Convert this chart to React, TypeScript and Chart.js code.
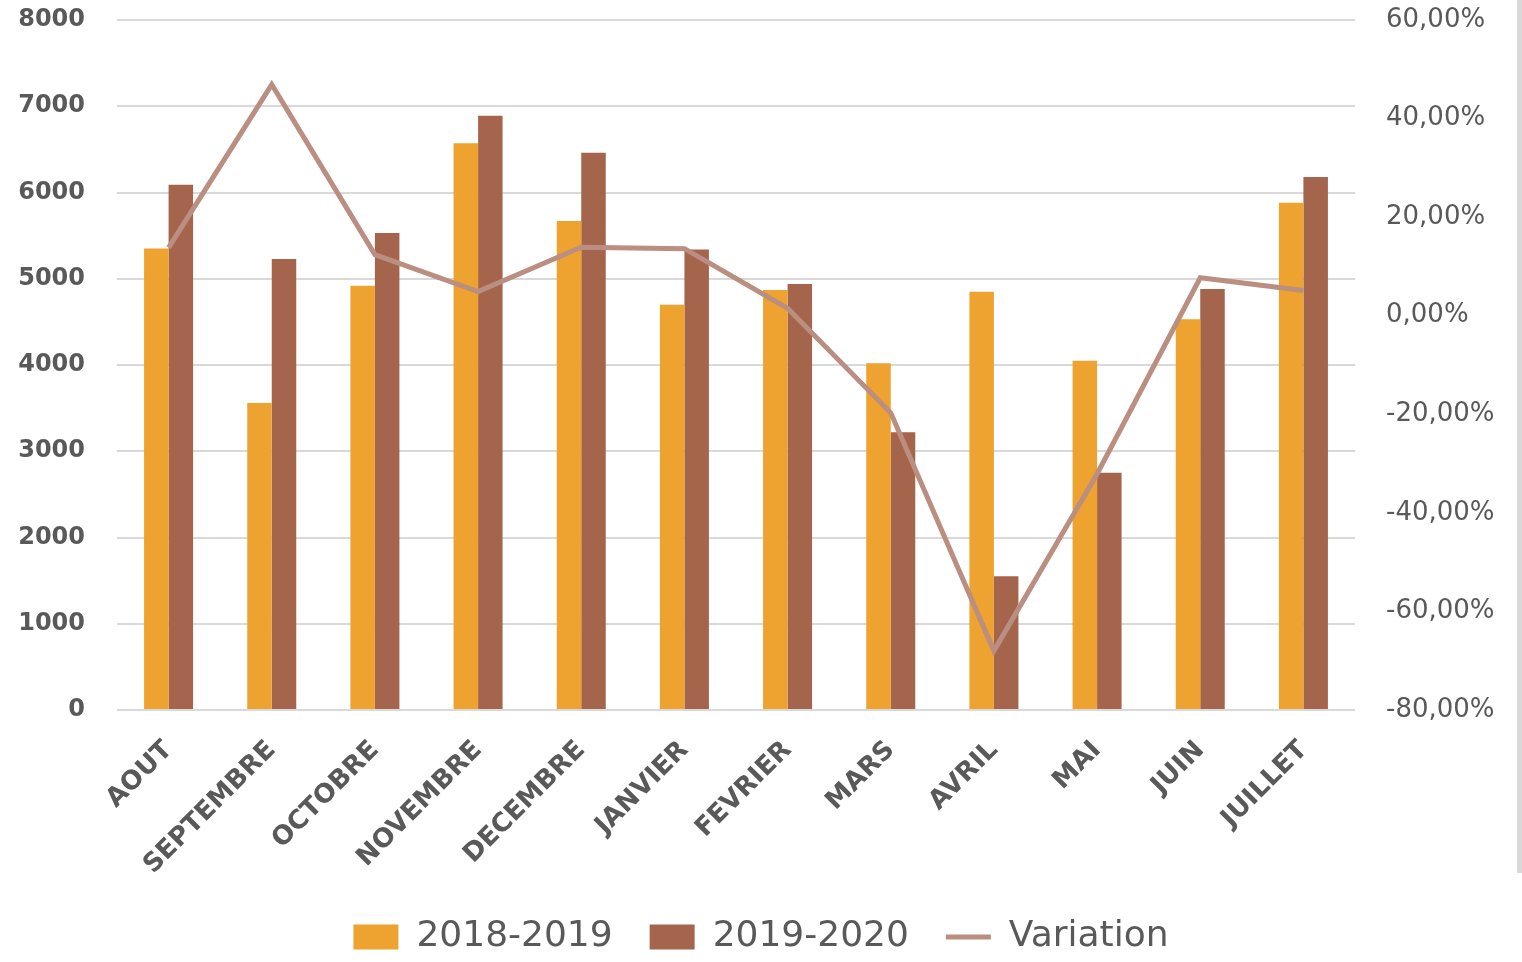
import React, { useEffect, useRef } from 'react';
import { Chart, registerables } from 'chart.js';

Chart.register(...registerables);

const categories = ['AOUT', 'SEPTEMBRE', 'OCTOBRE', 'NOVEMBRE', 'DECEMBRE', 'JANVIER', 'FEVRIER', 'MARS', 'AVRIL', 'MAI', 'JUIN', 'JUILLET'];
const values2018 = [5350, 3560, 4920, 6570, 5670, 4700, 4870, 4020, 4850, 4050, 4530, 5880];
const values2019 = [6090, 5230, 5530, 6890, 6460, 5340, 4940, 3220, 1550, 2750, 4880, 6180];
const variation = [13.8, 46.9, 12.4, 4.9, 13.9, 13.6, 1.5, -19.7, -68.0, -32.1, 7.7, 5.1];
const seriesNames = ['2018-2019', '2019-2020', 'Variation'];

const ORANGE = '#EEA22F';
const BROWN = '#A5654D';
const LINE = '#BA8E80';
const TEXT = '#595959';
const GRID = '#D9D9D9';

const formatPct = (v: number) => v.toFixed(2).replace('.', ',') + '%';

export default function App() {
  const canvasRef = useRef<HTMLCanvasElement | null>(null);

  useEffect(() => {
    if (!canvasRef.current) return;
    const chart = new Chart(canvasRef.current, {
      type: 'bar',
      data: {
        labels: categories,
        datasets: [
          {
            type: 'line',
            label: seriesNames[2],
            data: variation,
            yAxisID: 'y1',
            borderColor: LINE,
            backgroundColor: LINE,
            borderWidth: 5,
            pointRadius: 0,
            tension: 0,
            order: 0,
          } as any,
          {
            type: 'bar',
            label: seriesNames[0],
            data: values2018,
            yAxisID: 'y',
            backgroundColor: ORANGE,
            categoryPercentage: 0.475,
            barPercentage: 1,
            order: 1,
          },
          {
            type: 'bar',
            label: seriesNames[1],
            data: values2019,
            yAxisID: 'y',
            backgroundColor: BROWN,
            categoryPercentage: 0.475,
            barPercentage: 1,
            order: 1,
          },
        ],
      },
      options: {
        animation: false,
        responsive: true,
        maintainAspectRatio: false,
        layout: { padding: { top: 0, bottom: 0, left: 0, right: 0 } },
        plugins: {
          tooltip: { enabled: false },
          legend: {
            position: 'bottom',
            maxHeight: 80,
            labels: {
              usePointStyle: true,
              pointStyleWidth: 45,
              boxHeight: 25,
              padding: 37,
              color: TEXT,
              font: { family: 'DejaVu Sans', size: 36 },
              generateLabels: () => [
                { text: seriesNames[0], fillStyle: ORANGE, strokeStyle: ORANGE, lineWidth: 0, pointStyle: 'rect', datasetIndex: 1, hidden: false, fontColor: TEXT },
                { text: seriesNames[1], fillStyle: BROWN, strokeStyle: BROWN, lineWidth: 0, pointStyle: 'rect', datasetIndex: 2, hidden: false, fontColor: TEXT },
                { text: seriesNames[2], fillStyle: LINE, strokeStyle: LINE, lineWidth: 5, pointStyle: 'line', datasetIndex: 0, hidden: false, fontColor: TEXT },
              ] as any,
            },
          } as any,
        },
        scales: {
          x: {
            grid: { display: false },
            border: { display: false },
            ticks: {
              minRotation: 45,
              maxRotation: 45,
              padding: 17,
              color: TEXT,
              font: { family: 'DejaVu Sans', size: 26, weight: 'bold' },
            },
            afterFit: (scale: any) => {
              scale.height = 172;
            },
          },
          y: {
            position: 'left',
            min: 0,
            max: 8000,
            ticks: {
              stepSize: 1000,
              padding: 32,
              color: TEXT,
              font: { family: 'DejaVu Sans', size: 24, weight: 'bold' },
              callback: (v: any) => String(v),
            },
            grid: { color: GRID, lineWidth: 2, drawTicks: false },
            border: { display: false },
            afterFit: (scale: any) => {
              scale.width = 117;
              scale.paddingTop = 20;
              scale.paddingBottom = 0;
            },
          },
          y1: {
            position: 'right',
            min: -80,
            max: 60,
            ticks: {
              stepSize: 20,
              padding: 31,
              color: TEXT,
              font: { family: 'DejaVu Sans', size: 26 },
              callback: (v: any) => formatPct(Number(v)),
            },
            grid: { drawOnChartArea: false, drawTicks: false },
            border: { display: false },
            afterFit: (scale: any) => {
              scale.width = 167;
              scale.paddingTop = 20;
              scale.paddingBottom = 0;
            },
          },
        },
      },
    });
    return () => chart.destroy();
  }, []);

  return (
    <div style={{ position: 'absolute', left: 0, top: 0, width: 1522, height: 962, background: '#fff' }}>
      <canvas ref={canvasRef} />
      <div style={{ position: 'absolute', left: 1517, top: 0, width: 5, height: 873, background: GRID }} />
    </div>
  );
}
